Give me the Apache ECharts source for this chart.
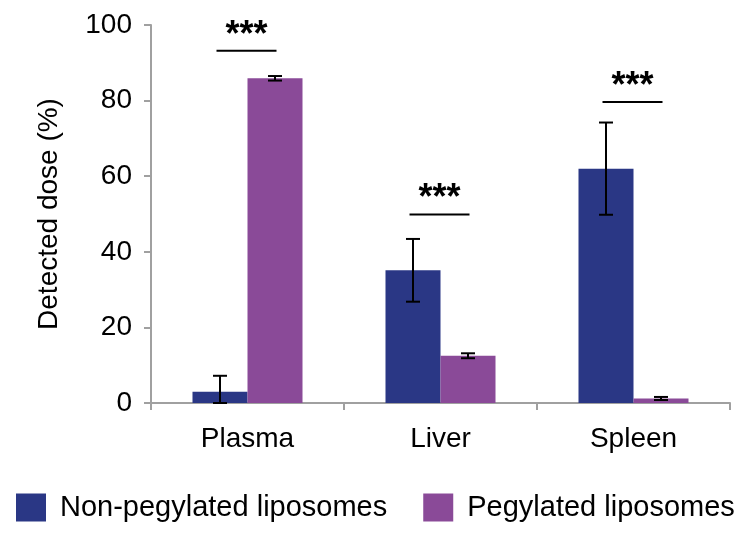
<!DOCTYPE html>
<html><head><meta charset="utf-8">
<script src="https://cdn.jsdelivr.net/npm/echarts@6/dist/echarts.min.js"></script>
<style>html,body{margin:0;padding:0;background:#fff}#c{width:751px;height:534px}</style>
</head><body><div id="c"></div>
<script>
var categories = ['Plasma', 'Liver', 'Spleen'];
var seriesNames = ['Non-pegylated liposomes', 'Pegylated liposomes'];
var nonPeg = [3.0, 35.1, 62.0];
var nonPegErr = [4.2, 8.3, 12.2];
var peg = [85.9, 12.5, 1.2];
var pegErr = [0.6, 0.65, 0.4];
var sigLevels = [93.2, 49.9, 79.6];
var sigLabels = ['***', '***', '***'];
var yTicks = [0, 20, 40, 60, 80, 100];

var FONT = 'Liberation Sans, Arial, Helvetica, sans-serif';
var BLUE = '#2a3785', PURPLE = '#8a4a98';
var GAP = 0.43;

function errData(vals, errs) {
  return vals.map(function (v, i) { return [i, Math.max(0, v - errs[i]), v + errs[i]]; });
}
function errRender(side) {
  return function (params, api) {
    var i = api.value(0);
    var band = api.size([1, 0])[0];
    var bw = band * (1 - GAP) / 2;
    var lo = api.coord([i, api.value(1)]);
    var hi = api.coord([i, api.value(2)]);
    var x = lo[0] + side * bw / 2;
    var cap = 7;
    var st = { stroke: '#000', lineWidth: 2 };
    return { type: 'group', children: [
      { type: 'line', shape: { x1: x, y1: lo[1], x2: x, y2: hi[1] }, style: st },
      { type: 'line', shape: { x1: x - cap, y1: hi[1], x2: x + cap, y2: hi[1] }, style: st },
      { type: 'line', shape: { x1: x - cap, y1: lo[1], x2: x + cap, y2: lo[1] }, style: st }
    ]};
  };
}

var chart = echarts.init(document.getElementById('c'));
chart.setOption({
  animation: false,
  textStyle: { fontFamily: FONT },
  grid: { left: 151, right: 21, top: 25, bottom: 131, containLabel: false },
  legend: {
    left: 11, top: 488, itemWidth: 30, itemHeight: 28, itemGap: 36,
    icon: 'rect',
    data: seriesNames,
    textStyle: { fontSize: 29, color: '#000', fontFamily: FONT, padding: [0, 0, 0, 9] }
  },
  xAxis: {
    type: 'category', data: categories,
    axisLine: { lineStyle: { color: '#a0a0a0', width: 2 } },
    axisTick: { show: true, length: 7, lineStyle: { color: '#a0a0a0', width: 2 } },
    axisLabel: { fontSize: 28, color: '#000', margin: 22, fontFamily: FONT }
  },
  yAxis: {
    type: 'value', min: 0, max: 100, interval: 20,
    name: 'Detected dose (%)', nameLocation: 'middle', nameGap: 88,
    nameTextStyle: { fontSize: 28, color: '#000', fontFamily: FONT },
    splitLine: { show: false },
    axisLine: { show: true, lineStyle: { color: '#a0a0a0', width: 2 } },
    axisTick: { show: true, length: 7, lineStyle: { color: '#a0a0a0', width: 2 } },
    axisLabel: { fontSize: 28, color: '#000', margin: 19, fontFamily: FONT,
      formatter: function (v) { return yTicks.indexOf(v) >= 0 ? String(v) : ''; } }
  },
  series: [
    { name: seriesNames[0], type: 'bar', data: nonPeg, itemStyle: { color: BLUE },
      barGap: '0%', barCategoryGap: (GAP * 100) + '%' },
    { name: seriesNames[1], type: 'bar', data: peg, itemStyle: { color: PURPLE },
      barGap: '0%', barCategoryGap: (GAP * 100) + '%' },
    { type: 'custom', renderItem: errRender(-1), data: errData(nonPeg, nonPegErr), z: 5, silent: true },
    { type: 'custom', renderItem: errRender(1), data: errData(peg, pegErr), z: 5, silent: true },
    { type: 'custom', z: 5, silent: true,
      data: sigLevels.map(function (v, i) { return [i, v, sigLabels[i]]; }),
      renderItem: function (params, api) {
        var p = api.coord([api.value(0), api.value(1)]);
        var x = p[0] - 1, y = p[1];
        return { type: 'group', children: [
          { type: 'line', shape: { x1: x - 30, y1: y, x2: x + 30, y2: y }, style: { stroke: '#000', lineWidth: 2 } },
          { type: 'text', style: { text: sigLabels[params.dataIndex], x: x, y: y + 3,
              align: 'center', verticalAlign: 'bottom', font: 'bold 36px ' + FONT, fill: '#000' } }
        ]};
      } }
  ]
});
</script></body></html>
